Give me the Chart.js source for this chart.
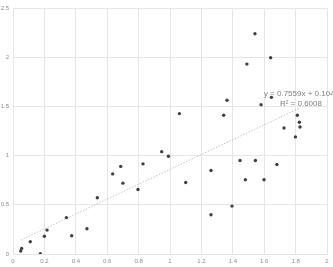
<!DOCTYPE html>
<html>
<head>
<meta charset="utf-8">
<script src="https://cdn.jsdelivr.net/npm/chart.js@4/dist/chart.umd.min.js"></script>
<style>
  body { margin: 0; background: #fff; }
  #chart { display: block; }
</style>
</head>
<body>
<canvas id="chart" width="333" height="267"></canvas>
<script>
// scatter values
const xValues = [0.049, 0.055, 0.11, 0.174, 0.2, 0.217, 0.34, 0.374, 0.471, 0.537,
  0.635, 0.686, 0.7, 0.796, 0.828, 0.947, 0.99, 1.06, 1.1, 1.261,
  1.261, 1.342, 1.363, 1.395, 1.446, 1.48, 1.49, 1.541, 1.544, 1.58,
  1.599, 1.641, 1.646, 1.681, 1.726, 1.799, 1.811, 1.824, 1.828];
const yValues = [0.03, 0.057, 0.125, 0.003, 0.18, 0.243, 0.37, 0.186, 0.256, 0.571,
  0.814, 0.89, 0.72, 0.655, 0.916, 1.04, 0.994, 1.427, 0.726, 0.848,
  0.399, 1.41, 1.562, 0.487, 0.95, 0.754, 1.93, 2.238, 0.95, 1.517,
  0.754, 1.994, 1.592, 0.909, 1.281, 1.19, 1.41, 1.339, 1.291];

const xTickLabels = ['0', '0.2', '0.4', '0.6', '0.8', '1', '1.2', '1.4', '1.6', '1.8', '2'];
const yTickLabels = ['0', '0.5', '1', '1.5', '2', '2.5'];

// trendline from the equation shown on the chart
const trendSlope = 0.7559;
const trendIntercept = 0.104;
const trendLabels = ['y = 0.7559x + 0.104', 'R\u00b2 = 0.6008'];

const points = xValues.map((x, i) => ({ x: x, y: yValues[i] }));
const xMin = Math.min(...xValues);
const xMax = Math.max(...xValues);
const trendPoints = [
  { x: xMin, y: trendSlope * xMin + trendIntercept },
  { x: xMax, y: trendSlope * xMax + trendIntercept }
];

const gridColor = '#e6e6e6';
const tickColor = '#8c8c8c';

// draws the equation text near the end of the trendline
const trendLabelPlugin = {
  id: 'trendLabel',
  afterDatasetsDraw(chart) {
    const ctx = chart.ctx;
    const xs = chart.scales.x;
    const ys = chart.scales.y;
    ctx.save();
    ctx.fillStyle = '#808080';
    ctx.font = '8px "Liberation Sans", Arial, sans-serif';
    ctx.textBaseline = 'middle';
    ctx.textAlign = 'left';
    ctx.fillText(trendLabels[0], xs.getPixelForValue(1.598), ys.getPixelForValue(1.63));
    ctx.fillText(trendLabels[1], xs.getPixelForValue(1.7), ys.getPixelForValue(1.53));
    ctx.restore();
  }
};

new Chart(document.getElementById('chart'), {
  type: 'scatter',
  data: {
    datasets: [{
      data: points,
      backgroundColor: '#404040',
      borderColor: '#404040',
      borderWidth: 0,
      pointRadius: 1.7,
      pointHoverRadius: 1.7
    }, {
      type: 'line',
      data: trendPoints,
      borderColor: '#c4c4c4',
      borderWidth: 1,
      borderDash: [1.5, 1.5],
      pointRadius: 0,
      fill: false
    }]
  },
  options: {
    responsive: false,
    animation: false,
    layout: { padding: { top: 8, right: 6, left: 0, bottom: 0 } },
    plugins: {
      legend: { display: false },
      tooltip: { enabled: false }
    },
    scales: {
      x: {
        type: 'linear',
        min: 0,
        max: 2,
        afterFit: function (scale) { scale.height = 13; },
        afterBuildTicks: function (scale) {
          scale.ticks = xTickLabels.map(v => ({ value: parseFloat(v) }));
        },
        grid: { color: gridColor, drawTicks: false },
        border: { color: gridColor },
        ticks: {
          color: tickColor,
          padding: 4,
          font: { size: 6, family: '"Liberation Sans", Arial, sans-serif' },
          maxRotation: 0,
          callback: function (value, index) { return xTickLabels[index]; }
        }
      },
      y: {
        type: 'linear',
        min: 0,
        max: 2.5,
        afterFit: function (scale) { scale.width = 13; },
        afterBuildTicks: function (scale) {
          scale.ticks = yTickLabels.map(v => ({ value: parseFloat(v) }));
        },
        grid: { color: gridColor, drawTicks: false },
        border: { color: gridColor },
        ticks: {
          color: tickColor,
          padding: 4,
          font: { size: 6, family: '"Liberation Sans", Arial, sans-serif' },
          callback: function (value, index) { return yTickLabels[index]; }
        }
      }
    }
  },
  plugins: [trendLabelPlugin]
});
</script>
</body>
</html>
